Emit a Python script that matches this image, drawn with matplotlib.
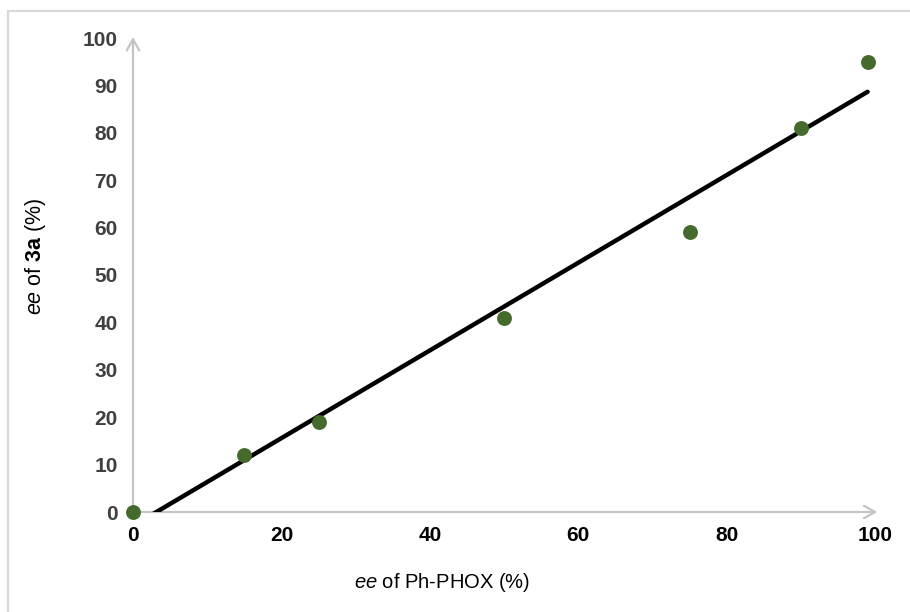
import matplotlib
matplotlib.use("Agg")
import matplotlib.pyplot as plt
from matplotlib.patches import Rectangle
import numpy as np

plt.rcParams['font.family'] = ['Liberation Sans', 'DejaVu Sans']
plt.rcParams['mathtext.fontset'] = 'custom'
plt.rcParams['mathtext.rm'] = 'Liberation Sans'
plt.rcParams['mathtext.it'] = 'Liberation Sans:italic'
plt.rcParams['mathtext.bf'] = 'Liberation Sans:bold'

# ee of Ph-PHOX (%) vs ee of 3a (%)
ee_phox = [0, 15, 25, 50, 75, 90, 99]
ee_3a = [0, 12, 19, 41, 59, 81, 95]
x_ticks = [0, 20, 40, 60, 80, 100]
y_ticks = [0, 10, 20, 30, 40, 50, 60, 70, 80, 90, 100]

W, H = 910, 612
fig = plt.figure(figsize=(W / 100, H / 100), dpi=100)
ax = fig.add_axes([133 / W, 1 - 512 / H, 742 / W, 474 / H])

# outer frame
fig.patches.append(Rectangle((8 / W, -0.2), 1.2, 1.2 - 11 / H, transform=fig.transFigure,
                             fill=False, edgecolor='#d9d9d9', lw=1.6))

# linear trendline from data
slope, icpt = np.polyfit(ee_phox, ee_3a, 1)
xs = np.array([0, max(ee_phox)])
ax.plot(xs, slope * xs + icpt, color='black', lw=3.2, solid_capstyle='round', zorder=3)

ax.scatter(ee_phox, ee_3a, s=115, color='#446b2b', zorder=4, clip_on=False, linewidths=0)

ax.set_xlim(0, 100)
ax.set_ylim(0, 100)
for s in ax.spines.values():
    s.set_visible(False)

axis_col = '#c4c4c4'
arrow = dict(arrowstyle='->,head_length=0.8,head_width=0.45', color=axis_col, lw=1.6,
             shrinkA=0, shrinkB=0)
ax.annotate('', xy=(100.3, 0), xytext=(0, 0), arrowprops=arrow, annotation_clip=False, zorder=1)
ax.annotate('', xy=(0, 100.2), xytext=(0, 0), arrowprops=arrow, annotation_clip=False, zorder=1)

ax.set_xticks(x_ticks)
ax.set_yticks(y_ticks)
ax.tick_params(length=0)
ax.tick_params(axis='x', pad=10, labelsize=15, labelcolor='black')
ax.tick_params(axis='y', pad=11, labelsize=15, labelcolor='#404040')
for t in ax.get_xticklabels() + ax.get_yticklabels():
    t.set_fontweight('bold')

fig.text(442 / W, 1 - 582 / H, r'$\it{ee}$ of Ph-PHOX (%)', ha='center', va='center', fontsize=14.5)
fig.text(35 / W, 1 - 256 / H, r'$\it{ee}$ of $\bf{3a}$ (%)', ha='center', va='center',
         fontsize=15.5, rotation=90)

fig.savefig('out.png', dpi=100)
